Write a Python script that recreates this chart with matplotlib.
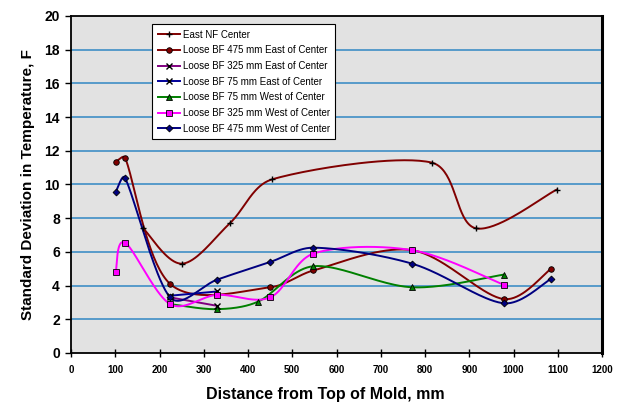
import numpy as np
import matplotlib
matplotlib.use("Agg")
import matplotlib.pyplot as plt
from matplotlib.lines import Line2D

plt.rcParams['font.family'] = ['Liberation Sans', 'DejaVu Sans']

# Standard deviation of temperature (F) vs. distance from top of mold (mm)
east_nf_x = [163, 251, 359, 454, 815, 915, 1098]
east_nf_y = [7.4, 5.3, 7.7, 10.3, 11.3, 7.4, 9.7]

bf475e_x = [101, 122, 224, 450, 548, 771, 978, 1085]
bf475e_y = [11.35, 11.6, 4.1, 3.9, 4.9, 6.1, 3.2, 5.0]

bf325e_x = [224, 330]
bf325e_y = [3.3, 2.8]

bf75e_x = [224, 330]
bf75e_y = [3.4, 3.65]

bf75w_x = [224, 330, 423, 548, 771, 978]
bf75w_y = [2.9, 2.6, 3.05, 5.15, 3.9, 4.65]

bf325w_x = [101, 122, 224, 330, 450, 548, 771, 978]
bf325w_y = [4.8, 6.55, 2.9, 3.45, 3.3, 5.9, 6.1, 4.05]

bf475w_x = [101, 122, 224, 330, 450, 548, 771, 978, 1085]
bf475w_y = [9.55, 10.4, 3.3, 4.35, 5.4, 6.25, 5.3, 2.95, 4.4]

x_ticks = list(range(0, 1201, 100))
y_ticks = list(range(0, 21, 2))

series = [
    ("East NF Center", east_nf_x, east_nf_y, "#800000", "+", "#000000", 5),
    ("Loose BF 475 mm East of Center", bf475e_x, bf475e_y, "#800000", "o", "#800000", 4),
    ("Loose BF 325 mm East of Center", bf325e_x, bf325e_y, "#800080", "x", "#000000", 4),
    ("Loose BF 75 mm East of Center", bf75e_x, bf75e_y, "#000099", "x", "#000000", 4),
    ("Loose BF 75 mm West of Center", bf75w_x, bf75w_y, "#008000", "^", "#008000", 4.5),
    ("Loose BF 325 mm West of Center", bf325w_x, bf325w_y, "#FF00FF", "s", "#FF00FF", 4),
    ("Loose BF 475 mm West of Center", bf475w_x, bf475w_y, "#000080", "D", "#000080", 3.5),
]

# approximate display scale (px per data unit) used to shape the smoothing
SX, SY = 0.4425, 16.85


def smooth(xs, ys, n=40):
    """Bezier smoothing through every point, with tangents limited per segment."""
    p = np.column_stack([np.asarray(xs, float) * SX, np.asarray(ys, float) * SY])
    if len(p) < 3:
        return np.asarray(xs, float), np.asarray(ys, float)
    ext = np.vstack([p[0], p, p[-1]])
    out = []
    t = np.linspace(0, 1, n)[:, None]
    for i in range(len(p) - 1):
        p0, p1, p2, p3 = ext[i], ext[i + 1], ext[i + 2], ext[i + 3]
        seg_len = np.hypot(*(p2 - p1))
        d1 = (p2 - p0) / 6.0
        d2 = (p3 - p1) / 6.0
        lim = seg_len / 3.0
        for d in (d1, d2):
            m = np.hypot(*d)
            if m > lim and m > 0:
                d *= lim / m
        c1 = p1 + d1
        c2 = p2 - d2
        seg = ((1 - t) ** 3) * p1 + 3 * ((1 - t) ** 2) * t * c1 + 3 * (1 - t) * t ** 2 * c2 + t ** 3 * p2
        out.append(seg if i == 0 else seg[1:])
    c = np.vstack(out)
    return c[:, 0] / SX, c[:, 1] / SY


fig = plt.figure(figsize=(6.25, 4.07), dpi=100)
ax = fig.add_axes([0.1136, 0.1327, 0.8496, 0.828])
ax.set_facecolor("#E2E2E2")

for yv in y_ticks[1:-1]:
    ax.axhline(yv, color="#3F8FC6", lw=1.2, zorder=1)

handles = []
for label, xs, ys, col, mk, mfc, ms in series:
    sx, sy = smooth(xs, ys)
    ax.plot(sx, sy, color=col, lw=1.4, zorder=3, solid_capstyle="round")
    mew = 1.0 if mk in ("+", "x") else 0.6
    ax.plot(xs, ys, ls="none", marker=mk, ms=ms, mfc=mfc, mec="#000000", mew=mew, zorder=4)
    handles.append(Line2D([0], [0], color=col, lw=1.4, marker=mk, ms=ms, mfc=mfc,
                          mec="#000000", mew=mew, label=label))

ax.set_xlim(0, 1200)
ax.set_ylim(0, 20)
ax.set_xticks(x_ticks)
ax.set_yticks(y_ticks)
ax.tick_params(axis="x", direction="inout", length=6, width=1, labelsize=7, pad=6)
ax.tick_params(axis="y", direction="out", length=4, width=1, labelsize=10, pad=4)
for lbl in ax.get_xticklabels() + ax.get_yticklabels():
    lbl.set_fontweight("bold")
for s in ax.spines.values():
    s.set_linewidth(1.3)
    s.set_color("#000000")
ax.spines["right"].set_linewidth(2.2)

ax.set_xlabel("Distance from Top of Mold, mm", fontsize=11.5, fontweight="bold")
ax.xaxis.set_label_coords(0.478, -0.1)
ax.set_ylabel("Standard Deviation in Temperature, F", fontsize=11, fontweight="bold")
ax.yaxis.set_label_coords(-0.068, 0.5)

leg = ax.legend(handles=handles, loc="upper left", bbox_to_anchor=(0.153, 0.975),
                fontsize=7, frameon=True, fancybox=False, handlelength=2.3,
                handletextpad=0.3, labelspacing=0.58, borderpad=0.55, borderaxespad=0)
leg.get_frame().set_edgecolor("#000000")
leg.get_frame().set_linewidth(0.8)
leg.get_frame().set_facecolor("#FFFFFF")
leg.get_frame().set_alpha(1)
leg.set_zorder(5)

fig.savefig("out.png", dpi=100)
